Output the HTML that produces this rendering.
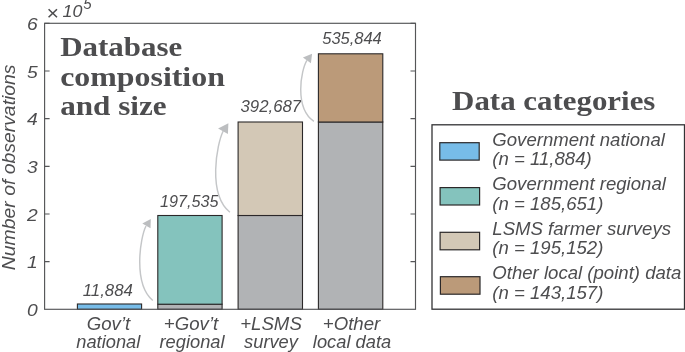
<!DOCTYPE html>
<html><head><meta charset="utf-8">
<style>
html,body{margin:0;padding:0;background:#fff;}
svg{display:block;}
.it{font-family:"Liberation Sans",sans-serif;font-style:italic;font-size:17.6px;fill:#4d4d4f;}
.tk{font-family:"Liberation Sans",sans-serif;font-style:italic;font-size:17.2px;fill:#4d4d4f;}
.vl{font-family:"Liberation Sans",sans-serif;font-style:italic;font-size:16px;fill:#4d4d4f;}
.ser{font-family:"Liberation Serif",serif;font-weight:bold;font-size:27px;fill:#4d4d4f;}
</style></head><body>
<svg width="685" height="352" viewBox="0 0 685 352">
<rect width="685" height="352" fill="#fff"/>
<g stroke="#2b2829" stroke-width="1.1">
<rect x="77.4" y="304" width="64.2" height="5.3" fill="#77bce8"/>
<rect x="157.8" y="304.2" width="64.3" height="5.1" fill="#b1b3b5"/>
<rect x="157.8" y="215.5" width="64.3" height="88.7" fill="#84c3bd"/>
<rect x="238.1" y="215.5" width="64.4" height="93.8" fill="#b1b3b5"/>
<rect x="238.1" y="122" width="64.4" height="93.5" fill="#d3c8b6"/>
<rect x="318.4" y="122" width="64.4" height="187.3" fill="#b1b3b5"/>
<rect x="318.4" y="53.8" width="64.4" height="68.2" fill="#bb9a79"/>
</g>
<g stroke="#555658" stroke-width="1.15" fill="none">
<rect x="44.6" y="23.3" width="370.90" height="286.00"/>
<path d="M44.6 23.30h5M44.6 70.97h5M44.6 118.63h5M44.6 166.30h5M44.6 213.97h5M44.6 261.63h5"/>
<path d="M415.5 23.30h-5M415.5 70.97h-5M415.5 118.63h-5M415.5 166.30h-5M415.5 213.97h-5M415.5 261.63h-5"/>
</g>
<text class="tk" transform="translate(37.7,29.8) scale(1.12,1)" text-anchor="end">6</text>
<text class="tk" transform="translate(37.7,77.5) scale(1.12,1)" text-anchor="end">5</text>
<text class="tk" transform="translate(37.7,125.1) scale(1.12,1)" text-anchor="end">4</text>
<text class="tk" transform="translate(37.7,172.8) scale(1.12,1)" text-anchor="end">3</text>
<text class="tk" transform="translate(37.7,220.5) scale(1.12,1)" text-anchor="end">2</text>
<text class="tk" transform="translate(37.7,268.1) scale(1.12,1)" text-anchor="end">1</text>
<text class="tk" transform="translate(37.7,315.8) scale(1.12,1)" text-anchor="end">0</text>
<text class="tk" transform="translate(46.3,20.1) scale(1.08,1)" style="font-size:19.7px">×</text>
<text class="tk" transform="translate(62.5,17.1) scale(1.13,1)" style="font-size:15.8px">10</text>
<text class="tk" transform="translate(83.3,9.1) scale(1.08,1)" style="font-size:14px">5</text>
<text class="it" transform="translate(14.7,167.3) rotate(-90) scale(1.01,1)" text-anchor="middle" style="font-size:19.2px">Number of observations</text>
<text class="it" transform="translate(108.5,330.2) scale(1.06,1)" text-anchor="middle">Gov’t</text>
<text class="it" transform="translate(108.3,347.8) scale(1.04,1)" text-anchor="middle">national</text>
<text class="it" transform="translate(191,330.2) scale(1.06,1)" text-anchor="middle">+Gov’t</text>
<text class="it" transform="translate(192,347.8) scale(1.04,1)" text-anchor="middle">regional</text>
<text class="it" transform="translate(271,330.2) scale(1.06,1)" text-anchor="middle">+LSMS</text>
<text class="it" transform="translate(271,347.8) scale(1.04,1)" text-anchor="middle">survey</text>
<text class="it" transform="translate(351.5,330.2) scale(1.06,1)" text-anchor="middle">+Other</text>
<text class="it" transform="translate(352,347.8) scale(1.04,1)" text-anchor="middle">local data</text>
<text class="vl" transform="translate(107.8,295.9) scale(1.05,1)" text-anchor="middle">11,884</text>
<text class="vl" transform="translate(189.3,206.7) scale(1.01,1)" text-anchor="middle">197,535</text>
<text class="vl" transform="translate(270.8,112.3) scale(1.05,1)" text-anchor="middle">392,687</text>
<text class="vl" transform="translate(352,43.5) scale(1.03,1)" text-anchor="middle">535,844</text>
<g stroke="#c4c6c8" stroke-width="1.45" fill="none">
<path d="M152.8 300.5 C133 284 140 238 146 226"/>
<path d="M229.9 212.3 C207.4 194.3 216.7 144.1 223.2 131"/>
<path d="M313.9 121.3 C294.1 107.8 300.9 70.1 306.9 60.3"/>
</g>
<g fill="#bcbec0">
<path d="M150.8 219.1 L142.3 223.4 L150.5 228.2z"/>
<path d="M228.4 123.3 L218.1 128.4 L227.9 134.1z"/>
<path d="M312.1 53.8 L302.9 57.6 L310.9 63.3z"/>
</g>
<text class="ser" x="60.2" y="55.7" textLength="122" lengthAdjust="spacingAndGlyphs">Database</text>
<text class="ser" x="60.2" y="85.5" textLength="164.7" lengthAdjust="spacingAndGlyphs">composition</text>
<text class="ser" x="60.2" y="115.3" textLength="106.4" lengthAdjust="spacingAndGlyphs">and size</text>
<text class="ser" x="452.1" y="109.7" textLength="203.3" lengthAdjust="spacingAndGlyphs" style="font-size:28px">Data categories</text>
<rect x="432" y="124.8" width="252.5" height="184.4" fill="#fff" stroke="#333335" stroke-width="1.3"/>
<g stroke="#2b2829" stroke-width="1.2">
<rect x="439.8" y="142.7" width="39.4" height="17.4" fill="#77bce8"/>
<rect x="440.1" y="187.6" width="39.5" height="17.4" fill="#84c3bd"/>
<rect x="440.1" y="232.3" width="39.5" height="17.5" fill="#d3c8b6"/>
<rect x="440.4" y="276.7" width="39.6" height="17.5" fill="#bb9a79"/>
</g>
<text class="it" transform="translate(492.3,145.6) scale(1.057,1)">Government national</text>
<text class="it" transform="translate(492.3,165.0) scale(1.057,1)">(n = 11,884)</text>
<text class="it" transform="translate(492.3,190.1) scale(1.057,1)">Government regional</text>
<text class="it" transform="translate(492.3,209.6) scale(1.057,1)">(n = 185,651)</text>
<text class="it" transform="translate(492.3,234.7) scale(1.057,1)">LSMS farmer surveys</text>
<text class="it" transform="translate(492.3,254.1) scale(1.057,1)">(n = 195,152)</text>
<text class="it" transform="translate(492.3,279.2) scale(1.057,1)">Other local (point) data</text>
<text class="it" transform="translate(492.3,298.6) scale(1.057,1)">(n = 143,157)</text>
</svg>
</body></html>
